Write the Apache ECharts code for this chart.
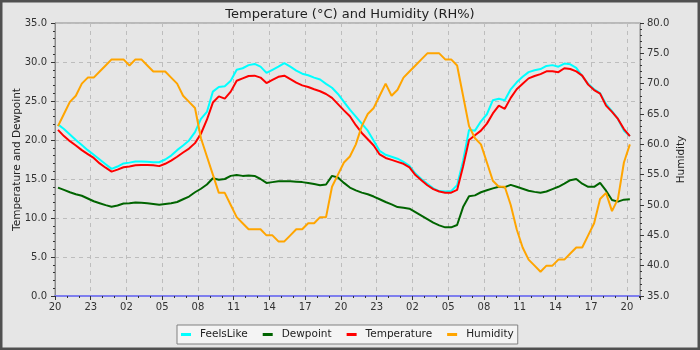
<!DOCTYPE html>
<html>
<head>
    <meta charset="utf-8" />
    <title>Temperature and Humidity</title>
    <script src="https://cdn.jsdelivr.net/npm/echarts@6/dist/echarts.min.js"></script>
    <style type="text/css">
        html,
        body {
            width: 100%;
            height: 100%;
            margin: 0;
            background: #e6e6e6;
        }

        #chart {
            width: 700px;
            height: 350px;
        }
    </style>
</head>
<body>
    <div id="chart"></div>
    <script>
        // readings every half hour, first one at 20:15 (hours counted from 20:00)
        var startHour = 20;
        var firstOffset = 0.25;
        var stepHours = 0.5;

        var feelsLike = [
            22.0, 21.4, 20.7, 20.0, 19.35, 18.7, 18.1, 17.5, 16.9, 16.3,
            16.6, 17.0, 17.1, 17.25, 17.25, 17.2, 17.15, 17.15, 17.5, 18.0,
            18.7, 19.3, 19.95, 21.0, 22.7, 23.6, 26.2, 26.8, 26.9, 27.6,
            29.0, 29.2, 29.6, 29.75, 29.4, 28.6, 29.0, 29.4, 29.85, 29.4,
            28.9, 28.5, 28.3, 28.0, 27.75, 27.2, 26.7, 25.9, 24.9, 23.9,
            23.0, 22.1, 21.2, 19.9, 18.6, 18.1, 17.85, 17.6, 17.2, 16.7,
            15.7, 15.0, 14.4, 13.8, 13.45, 13.4, 13.45, 14.2, 17.3, 21.3,
            21.2, 22.4, 23.3, 25.1, 25.3, 25.1, 26.5, 27.4, 28.1, 28.7,
            28.95, 29.1, 29.5, 29.6, 29.4, 29.8, 29.7, 29.25, 28.2, 27.2,
            26.5, 26.0, 24.6, 23.7, 22.7, 21.2, 20.5
        ];

        var dewpoint = [
            13.9, 13.6, 13.3, 13.05, 12.85, 12.5, 12.15, 11.9, 11.65, 11.45,
            11.6, 11.85, 11.9, 12.0, 11.95, 11.9, 11.8, 11.7, 11.8, 11.9,
            12.05, 12.4, 12.75, 13.3, 13.75, 14.3, 15.1, 14.9, 15.0, 15.4,
            15.5, 15.4, 15.45, 15.4, 15.0, 14.5, 14.6, 14.7, 14.7, 14.7,
            14.65, 14.6, 14.5, 14.35, 14.2, 14.3, 15.4, 15.2, 14.5, 13.9,
            13.55, 13.25, 13.05, 12.75, 12.4, 12.05, 11.75, 11.4, 11.3, 11.2,
            10.75, 10.3, 9.85, 9.4, 9.05, 8.8, 8.8, 9.1, 11.4, 12.8,
            12.9, 13.3, 13.55, 13.8, 14.0, 13.95, 14.25, 14.0, 13.75, 13.5,
            13.35, 13.25, 13.4, 13.7, 14.0, 14.4, 14.85, 15.0, 14.4, 14.0,
            14.0, 14.5, 13.5, 12.3, 12.1, 12.35, 12.4
        ];

        var temperature = [
            21.3, 20.5, 19.85, 19.3, 18.7, 18.2, 17.7, 17.0, 16.45, 15.95,
            16.2, 16.5, 16.6, 16.75, 16.8, 16.8, 16.75, 16.65, 16.95, 17.35,
            17.85, 18.4, 18.9, 19.6, 20.8, 22.6, 24.8, 25.6, 25.3, 26.2,
            27.6, 27.9, 28.2, 28.25, 28.0, 27.3, 27.7, 28.1, 28.25, 27.8,
            27.35, 27.0, 26.8, 26.5, 26.25, 25.9, 25.4, 24.6, 23.8, 23.05,
            21.9, 20.9, 20.1, 19.3, 18.15, 17.7, 17.45, 17.2, 16.95, 16.5,
            15.5, 14.85, 14.2, 13.7, 13.4, 13.25, 13.25, 13.6, 16.6, 20.0,
            20.6, 21.2, 22.1, 23.4, 24.4, 24.0, 25.4, 26.5, 27.2, 27.9,
            28.2, 28.45, 28.8, 28.8, 28.7, 29.2, 29.1, 28.8, 28.25, 27.1,
            26.4, 25.95, 24.4, 23.6, 22.7, 21.4, 20.5
        ];

        var humidity = [
            63, 65, 67, 68, 70, 71, 71, 72, 73, 74,
            74, 74, 73, 74, 74, 73, 72, 72, 72, 71,
            70, 68, 67, 66, 61, 58, 55, 52, 52, 50,
            48, 47, 46, 46, 46, 45, 45, 44, 44, 45,
            46, 46, 47, 47, 48, 48, 53, 55, 57, 58,
            60, 63, 65, 66, 68, 70, 68, 69, 71, 72,
            73, 74, 75, 75, 75, 74, 74, 73, 68, 63,
            61, 60, 57, 54, 53, 53, 50, 46, 43, 41,
            40, 39, 40, 40, 41, 41, 42, 43, 43, 45,
            47, 51, 52, 49, 51, 57, 60
        ];

        var seriesNames = ['FeelsLike', 'Dewpoint', 'Temperature', 'Humidity'];
        var seriesColors = ['#00ffff', '#006400', '#ff0000', '#ffa500'];

        var hoursSpan = 49.1;
        var font = 'DejaVu Sans';

        function toPoints(values) {
            return values.map(function (v, i) {
                return [firstOffset + i * stepHours, v];
            });
        }

        function hourLabel(h) {
            if (Math.abs(h % 3) > 1e-6) return '';
            var hh = (startHour + h) % 24;
            return (hh < 10 ? '0' : '') + hh;
        }

        var chart = echarts.init(document.getElementById('chart'), null, { renderer: 'canvas' });

        var dashed = { show: true, lineStyle: { color: '#bdbdbd', type: [4, 4], width: 1 } };

        var option = {
            backgroundColor: '#e6e6e6',
            animation: false,
            title: {
                text: 'Temperature (°C) and Humidity (RH%)',
                left: 'center',
                top: 3,
                textStyle: { fontFamily: font, fontSize: 13, fontWeight: 'normal', color: '#222' }
            },
            grid: {
                left: 55,
                right: 60,
                top: 23,
                bottom: 54,
                containLabel: false,
                outerBoundsMode: 'none',
                show: true,
                backgroundColor: '#e6e6e6',
                borderColor: '#8c8c8c',
                borderWidth: 1
            },
            legend: {
                data: seriesNames,
                left: 177,
                top: 325,
                icon: 'rect',
                itemWidth: 10,
                itemHeight: 3,
                itemGap: 15,
                padding: [4, 4, 4, 4],
                backgroundColor: '#f4f4f4',
                borderColor: '#808080',
                borderWidth: 1,
                borderRadius: 0,
                textStyle: { fontFamily: font, fontSize: 10.5, color: '#222', padding: [0, 0, 0, 4] }
            },
            xAxis: {
                type: 'value',
                min: 0,
                max: hoursSpan,
                interval: 3,
                axisLine: { show: true, lineStyle: { color: '#7f7fee', width: 2 } },
                axisTick: { show: true, length: 4, lineStyle: { color: '#333' } },
                minorTick: { show: true, splitNumber: 3, length: 2, lineStyle: { color: '#333' } },
                axisLabel: {
                    formatter: hourLabel, margin: 6, showMaxLabel: false,
                    color: '#333', fontFamily: font, fontSize: 10
                },
                splitLine: dashed
            },
            yAxis: [
                {
                    type: 'value',
                    name: 'Temperature and Dewpoint',
                    nameLocation: 'middle',
                    nameGap: 32,
                    nameMoveOverlap: false,
                    nameTextStyle: { fontFamily: font, fontSize: 10.5, color: '#222' },
                    min: 0,
                    max: 35,
                    interval: 5,
                    axisLine: { show: true, lineStyle: { color: '#8c8c8c' } },
                    axisTick: { show: true, length: 4, lineStyle: { color: '#333' } },
                    minorTick: { show: true, splitNumber: 5, length: 2, lineStyle: { color: '#333' } },
                    axisLabel: {
                        margin: 8,
                        formatter: function (v) { return v.toFixed(1); },
                        color: '#333', fontFamily: font, fontSize: 10
                    },
                    splitLine: dashed
                },
                {
                    type: 'value',
                    name: 'Humidity',
                    nameLocation: 'middle',
                    nameGap: 36,
                    nameMoveOverlap: false,
                    nameTextStyle: { fontFamily: font, fontSize: 10.5, color: '#222' },
                    min: 35,
                    max: 80,
                    interval: 5,
                    position: 'right',
                    axisLine: { show: true, lineStyle: { color: '#8c8c8c' } },
                    axisTick: { show: true, length: 4, lineStyle: { color: '#333' } },
                    minorTick: { show: true, splitNumber: 5, length: 2, lineStyle: { color: '#333' } },
                    axisLabel: {
                        margin: 7,
                        formatter: function (v) { return v.toFixed(1); },
                        color: '#333', fontFamily: font, fontSize: 10
                    },
                    splitLine: { show: false }
                }
            ],
            graphic: [{
                type: 'rect',
                shape: { x: 1, y: 1, width: 698, height: 348 },
                style: { fill: 'none', stroke: '#505050', lineWidth: 3 },
                silent: true,
                z: 100
            }],
            series: [
                { name: seriesNames[0], data: toPoints(feelsLike), yAxisIndex: 0 },
                { name: seriesNames[1], data: toPoints(dewpoint), yAxisIndex: 0 },
                { name: seriesNames[2], data: toPoints(temperature), yAxisIndex: 0 },
                { name: seriesNames[3], data: toPoints(humidity), yAxisIndex: 1 }
            ].map(function (s, i) {
                s.type = 'line';
                s.showSymbol = false;
                s.color = seriesColors[i];
                s.lineStyle = { width: 2, color: seriesColors[i] };
                return s;
            })
        };

        chart.setOption(option);
    </script>
</body>
</html>
